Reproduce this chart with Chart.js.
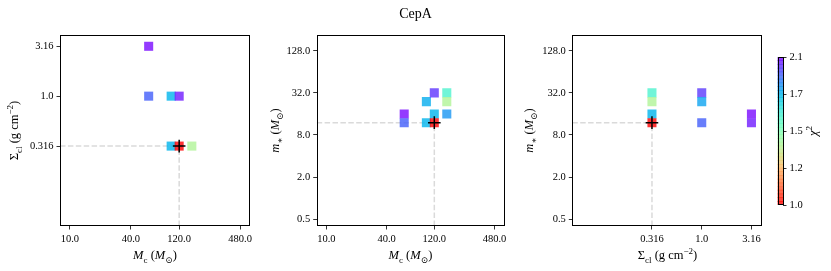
<!DOCTYPE html>
<html>
<head>
<meta charset="utf-8">
<script src="https://cdn.jsdelivr.net/npm/chart.js@4.4.1/dist/chart.umd.min.js"></script>
<style>
  body { margin: 0; background: #fff; }
  #fig { position: relative; width: 831px; height: 271px; overflow: hidden; }
  canvas { position: absolute; top: 0; }
</style>
</head>
<body>
<div id="fig">
  <canvas id="p1" width="270" height="271" style="left:0px"></canvas>
  <canvas id="p2" width="250" height="271" style="left:262px"></canvas>
  <canvas id="p3" width="260" height="271" style="left:515px"></canvas>
  <canvas id="cb" width="71" height="271" style="left:760px"></canvas>
</div>
<script>
// panel 1: cloud mass vs surface density
var mc1  = [60, 60, 100, 120, 100, 160, 120];
var sig1 = [3.16, 1.0, 1.0, 1.0, 0.316, 0.316, 0.316];
var chi1 = [2.08, 1.92, 1.745, 2.05, 1.745, 1.35, 1.0];

// panel 2: cloud mass vs stellar mass
var mc2  = [60, 60, 100, 120, 120, 160, 100, 120, 160, 160];
var ms2  = [16, 12, 12, 16, 12, 16, 24, 32, 32, 24];
var chi2 = [2.08, 1.92, 1.745, 1.745, 1.0, 1.81, 1.76, 2.0, 1.56, 1.35];

// panel 3: surface density vs stellar mass
var sig3 = [0.316, 0.316, 0.316, 0.316, 1.0, 1.0, 1.0, 3.16, 3.16];
var ms3  = [32, 24, 16, 12, 32, 24, 12, 16, 12];
var chi3 = [1.56, 1.35, 1.745, 1.0, 1.99, 1.78, 1.92, 2.08, 2.05];

// best model
var bestMc = 120, bestSig = 0.316, bestMs = 12;

// axes
var mcRange = [8, 600],   mcTicks = [10, 40, 120, 480],   mcLabels = ['10.0', '40.0', '120.0', '480.0'];
var sigRange = [0.05, 4.1], sigTicks = [0.316, 1.0, 3.16], sigLabels = ['0.316', '1.0', '3.16'];
var msRange = [0.4, 215], msTicks = [0.5, 2, 8, 32, 128], msLabels = ['0.5', '2.0', '8.0', '32.0', '128.0'];
var chiMin = 1.0, chiMax = 2.1;
var cbLabels = ['1.0', '1.2', '1.5', '1.7', '2.1'];

var SERIF = '"Liberation Serif", "DejaVu Serif", serif';
Chart.defaults.font.family = SERIF;
Chart.defaults.color = '#000';

function rainbow(x, a) {
  var r = Math.min(1, Math.abs(2 * x - 0.5));
  var g = Math.sin(Math.PI * x);
  var b = Math.cos(Math.PI * x / 2);
  return 'rgba(' + Math.round(r * 255) + ',' + Math.round(g * 255) + ',' + Math.round(b * 255) + ',' + a + ')';
}
function chiColor(c) {
  var t = Math.log(c / chiMin) / Math.log(chiMax / chiMin);
  t = Math.max(0, Math.min(1, t));
  return rainbow(1 - t, 0.8);
}

function drawRich(ctx, segs, cx, cy, rot, size) {
  ctx.save();
  ctx.translate(cx, cy);
  ctx.rotate(rot);
  ctx.fillStyle = '#000';
  ctx.textBaseline = 'alphabetic';
  var parts = segs.map(function (s) {
    var fs = (s.sub || s.sup) ? size * 0.72 : size;
    var font = (s.it ? 'italic ' : '') + fs + 'px ' + SERIF;
    ctx.font = font;
    return { t: s.t, font: font, w: ctx.measureText(s.t).width,
             dy: s.sub ? size * 0.25 : (s.sup ? -size * 0.4 : 0) };
  });
  var total = 0;
  parts.forEach(function (p) { total += p.w; });
  var x = -total / 2;
  parts.forEach(function (p) {
    ctx.font = p.font;
    ctx.fillText(p.t, x, size * 0.35 + p.dy);
    x += p.w;
  });
  ctx.restore();
}

var mcTitle  = [{t: 'M', it: 1}, {t: 'c', sub: 1}, {t: ' ('}, {t: 'M', it: 1}, {t: '\u2299', sub: 1}, {t: ')'}];
var sigTitle = [{t: '\u03A3'}, {t: 'cl', sub: 1}, {t: ' (g cm'}, {t: '\u22122', sup: 1}, {t: ')'}];
var msTitle  = [{t: 'm', it: 1}, {t: '\u2217', sub: 1}, {t: ' ('}, {t: 'M', it: 1}, {t: '\u2299', sub: 1}, {t: ')'}];
var chiTitle = [{t: '\u03C7', it: 1}, {t: '2', sup: 1}];

function deco(cfg) {
  return {
    id: 'deco',
    afterDraw: function (chart) {
      var a = chart.chartArea, ctx = chart.ctx;
      ctx.save();
      ctx.strokeStyle = '#000';
      ctx.lineWidth = 1;
      ctx.strokeRect(Math.round(a.left) + 0.5, Math.round(a.top) + 0.5,
                     Math.round(a.right - a.left) - 1, Math.round(a.bottom - a.top) - 1);
      ctx.restore();
      if (cfg.x) drawRich(ctx, cfg.x, (a.left + a.right) / 2, 255, 0, 12.5);
      if (cfg.y) drawRich(ctx, cfg.y, cfg.yX, (a.top + a.bottom) / 2, -Math.PI / 2, 12.5);
      if (cfg.title) {
        ctx.save();
        ctx.fillStyle = '#000';
        ctx.font = '14px ' + SERIF;
        ctx.textAlign = 'center';
        ctx.textBaseline = 'middle';
        ctx.fillText(cfg.title, cfg.titleX, 14);
        ctx.restore();
      }
    }
  };
}

function logAxis(range, ticks, labels, pos, size) {
  return {
    type: 'logarithmic', position: pos, min: range[0], max: range[1],
    afterBuildTicks: function (s) { s.ticks = ticks.map(function (v) { return { value: v }; }); },
    afterFit: function (s) { if (pos === 'bottom') s.height = size; else s.width = size; },
    ticks: { autoSkip: false, maxRotation: 0, padding: 3, font: { size: 10.5 }, color: '#000',
             callback: function (v, i) { return labels[i]; } },
    grid: { drawOnChartArea: false, drawTicks: true, tickLength: 3.5, color: '#000', lineWidth: 0.8 },
    border: { display: false }
  };
}

function panel(id, xs, ys, chis, bx, by, xr, yr, xAxis, yAxis, pad, cfg) {
  var pts = xs.map(function (x, i) { return { x: x, y: ys[i] }; });
  new Chart(document.getElementById(id), {
    type: 'scatter',
    data: {
      datasets: [
        { data: [{ x: bx, y: by }], pointStyle: 'cross', pointRadius: 6.3, borderColor: '#000',
          borderWidth: 1.5, backgroundColor: '#000' },
        { data: pts, pointStyle: 'rect', pointRadius: 6.4, backgroundColor: chis.map(chiColor),
          borderWidth: 0 },
        { data: [{ x: xr[0], y: by }, { x: bx, y: by }], showLine: true, pointRadius: 0,
          borderColor: '#dadada', borderWidth: 1.5, borderDash: [5.5, 2.4] },
        { data: [{ x: bx, y: yr[0] }, { x: bx, y: by }], showLine: true, pointRadius: 0,
          borderColor: '#dadada', borderWidth: 1.5, borderDash: [5.5, 2.4] }
      ]
    },
    options: {
      responsive: false, animation: false, events: [],
      layout: { padding: pad },
      plugins: { legend: { display: false }, tooltip: { enabled: false } },
      scales: { x: xAxis, y: yAxis }
    },
    plugins: [deco(cfg)]
  });
}

panel('p1', mc1, sig1, chi1, bestMc, bestSig, mcRange, sigRange,
  logAxis(mcRange, mcTicks, mcLabels, 'bottom', 45),
  logAxis(sigRange, sigTicks, sigLabels, 'left', 60),
  { top: 35, right: 20, bottom: 0, left: 0 },
  { x: mcTitle, y: sigTitle, yX: 14 });

panel('p2', mc2, ms2, chi2, bestMc, bestMs, mcRange, msRange,
  logAxis(mcRange, mcTicks, mcLabels, 'bottom', 45),
  logAxis(msRange, msTicks, msLabels, 'left', 54.7),
  { top: 35, right: 5.3, bottom: 0, left: 0 },
  { x: mcTitle, y: msTitle, yX: 13, title: 'CepA', titleX: 415.5 - 262 });

panel('p3', sig3, ms3, chi3, bestSig, bestMs, sigRange, msRange,
  logAxis(sigRange, sigTicks, sigLabels, 'bottom', 45),
  logAxis(msRange, msTicks, msLabels, 'left', 57.3),
  { top: 35, right: 12.3, bottom: 0, left: 0 },
  { x: sigTitle, y: msTitle, yX: 14 });

// colour bar: stacked bands through the chi^2 range
var cbBands = 40;
var cbSets = [];
for (var i = 0; i < cbBands; i++) {
  cbSets.push({
    data: [(cbLabels.length - 1) / cbBands],
    backgroundColor: rainbow(1 - (i + 0.5) / cbBands, 0.8),
    borderWidth: 0, barPercentage: 1, categoryPercentage: 1, stack: 'cb'
  });
}
new Chart(document.getElementById('cb'), {
  type: 'bar',
  data: { labels: [''], datasets: cbSets },
  options: {
    responsive: false, animation: false, events: [],
    layout: { padding: { top: 57, bottom: 66, left: 17.5, right: 0 } },
    plugins: { legend: { display: false }, tooltip: { enabled: false } },
    scales: {
      x: { display: false, stacked: true },
      y: {
        type: 'linear', position: 'right', stacked: true, min: 0, max: cbLabels.length - 1,
        afterBuildTicks: function (s) { s.ticks = cbLabels.map(function (l, k) { return { value: k }; }); },
        afterFit: function (s) { s.width = 48; },
        ticks: { autoSkip: false, padding: 3, font: { size: 10.5 }, color: '#000',
                 callback: function (v, k) { return cbLabels[k]; } },
        grid: { drawOnChartArea: false, drawTicks: true, tickLength: 3.5, color: '#000', lineWidth: 0.8 },
        border: { display: false }
      }
    }
  },
  plugins: [deco({ y: chiTitle, yX: 53 })]
});
</script>
</body>
</html>
